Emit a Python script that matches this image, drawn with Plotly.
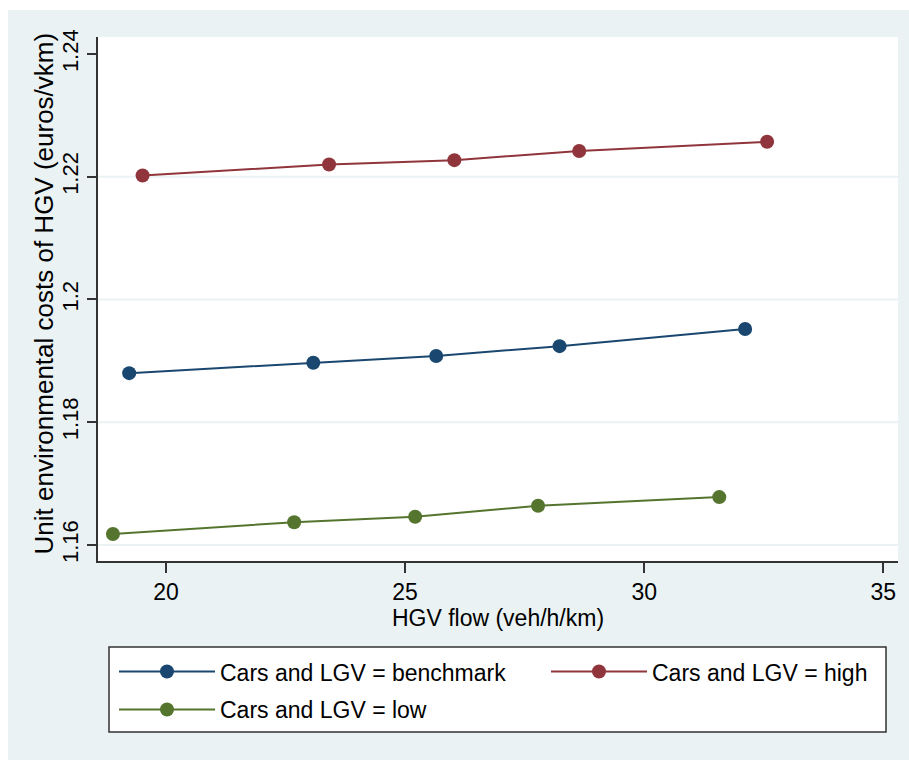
import plotly.graph_objects as go

# ---- data ----
SERIES_NAMES = ["Cars and LGV = benchmark", "Cars and LGV = high", "Cars and LGV = low"]
SERIES_COLORS = ["#1A476F", "#90353B", "#55752F"]
SERIES_LEGEND = ["legend", "legend2", "legend"]

bench_x = [19.23, 23.08, 25.65, 28.23, 32.11]
bench_y = [1.1880, 1.1897, 1.1908, 1.1924, 1.1952]

high_x = [19.51, 23.41, 26.03, 28.64, 32.57]
high_y = [1.2202, 1.2220, 1.2227, 1.2242, 1.2257]

low_x = [18.89, 22.68, 25.21, 27.78, 31.57]
low_y = [1.1618, 1.1637, 1.1646, 1.1664, 1.1678]

X_TICKS = [20, 25, 30, 35]
Y_TICKS = [1.16, 1.18, 1.2, 1.22, 1.24]
Y_TICK_TEXT = ["1.16", "1.18", "1.2", "1.22", "1.24"]
GRID_Y = [1.16, 1.18, 1.2, 1.22]

X_TITLE = "HGV flow (veh/h/km)"
Y_TITLE = "Unit environmental costs of HGV (euros/vkm)"

BG = "#EAF2F3"
AX = "#333333"
FONT = "Liberation Sans, Arial, sans-serif"
FS = 23

fig = go.Figure()
for name, color, lg, xs, ys in zip(SERIES_NAMES, SERIES_COLORS, SERIES_LEGEND,
                                   [bench_x, high_x, low_x], [bench_y, high_y, low_y]):
    fig.add_trace(go.Scatter(
        x=xs, y=ys, name=name, mode="lines+markers", legend=lg, legendgroup=name,
        line=dict(color=color, width=2),
        marker=dict(color=color, size=14),
    ))

for gy in GRID_Y:
    fig.add_shape(type="line", xref="paper", yref="y", x0=0, x1=1, y0=gy, y1=gy,
                  line=dict(color=BG, width=2), layer="below")

# legend frame (drawn as a box behind the two legend columns)
fig.add_shape(type="rect", xref="paper", yref="paper",
              x0=0.01375, x1=0.985, y0=-0.3263, y1=-0.1641,
              line=dict(color=AX, width=1.5), fillcolor="white", layer="below")

# y-axis title as a rotated annotation for precise placement
fig.add_annotation(text=Y_TITLE, xref="paper", yref="paper", x=-0.0663, y=0.5105,
                   xanchor="center", yanchor="middle", textangle=-90, showarrow=False,
                   font=dict(family=FONT, size=26, color="black"))

leg_common = dict(
    orientation="v", yanchor="top", xanchor="left",
    bgcolor="rgba(0,0,0,0)", borderwidth=0,
    font=dict(family=FONT, size=FS, color="black"),
    itemwidth=96, tracegroupgap=5, traceorder="grouped",
)

fig.update_layout(
    width=901, height=750,
    margin=dict(l=90, r=11, t=27, b=199, autoexpand=False),
    paper_bgcolor=BG, plot_bgcolor="white",
    font=dict(family=FONT, size=FS, color="black"),
    showlegend=True,
    legend=dict(x=0.02, y=-0.170, **leg_common),
    legend2=dict(x=0.56, y=-0.170, **leg_common),
    xaxis=dict(
        range=[18.578, 35.307], tickvals=X_TICKS, ticks="outside", ticklen=10,
        tickcolor=AX, tickwidth=1.5, showline=True, linecolor=AX, linewidth=1.5,
        showgrid=False, zeroline=False,
        tickfont=dict(size=23),
        title=dict(text=X_TITLE, standoff=2, font=dict(size=23)),
    ),
    yaxis=dict(
        range=[1.15739, 1.24277], tickvals=Y_TICKS, ticktext=Y_TICK_TEXT, ticks="outside",
        ticklen=9, tickcolor=AX, tickwidth=1.5, tickangle=-90,
        showline=True, linecolor=AX, linewidth=1.5,
        showgrid=False, zeroline=False,
        tickfont=dict(size=22),
    ),
)

fig.write_html(
    "out.html",
    post_script="document.body.style.margin='10px 0 0 8px';document.body.style.overflow='hidden';",
)
